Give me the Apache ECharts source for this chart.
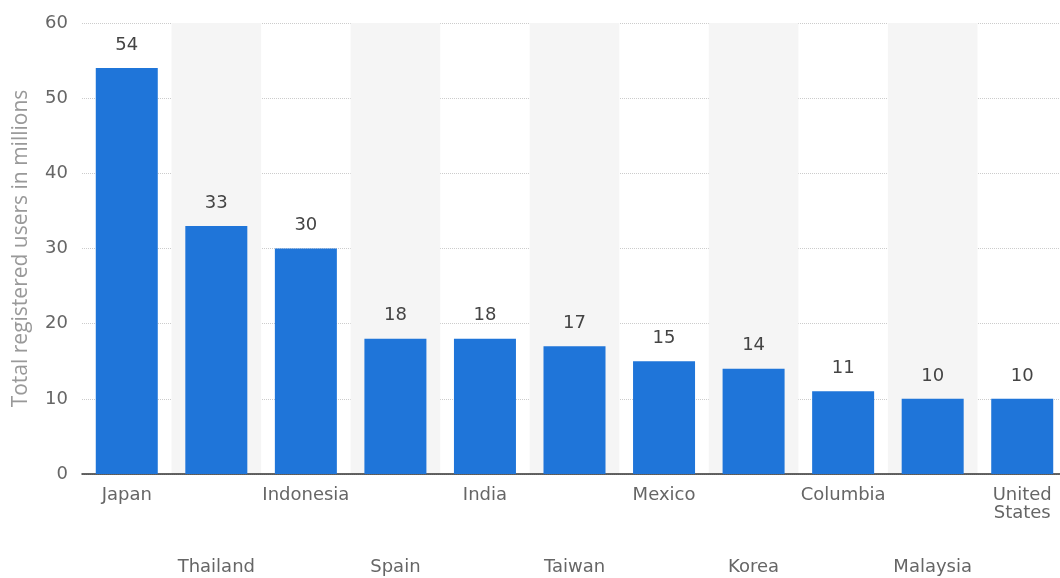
<!DOCTYPE html>
<html>
<head>
<meta charset="utf-8">
<script src="https://cdn.jsdelivr.net/npm/echarts@6/dist/echarts.min.js"></script>
<style>
  html, body { margin: 0; padding: 0; background: #fff; }
  #chart { width: 1060px; height: 578px; }
</style>
</head>
<body>
<div id="chart"></div>
<script>
var countries = ['Japan', 'Thailand', 'Indonesia', 'Spain', 'India', 'Taiwan', 'Mexico', 'Korea', 'Columbia', 'Malaysia', 'United\nStates'];
var users = [54, 33, 30, 18, 18, 17, 15, 14, 11, 10, 10];
var yTicks = { min: 0, max: 60, interval: 10 };

var font = 'DejaVu Sans';
var dom = echarts.init(document.getElementById('chart'));

var option = {
  animation: false,
  grid: { left: 82, width: 985, top: 23, bottom: 104, containLabel: false, outerBoundsMode: 'none' },
  xAxis: {
    type: 'category',
    data: countries,
    axisTick: { show: false },
    axisLine: { lineStyle: { color: '#333', width: 1.5 } },
    splitArea: { show: true, areaStyle: { color: ['rgba(0,0,0,0)', '#f5f5f5'] } },
    axisLabel: {
      interval: 0,
      color: '#666',
      fontFamily: font,
      fontSize: 18,
      lineHeight: 18,
      margin: 12,
      formatter: function (v, i) {
        return i % 2 === 1 ? '\n\n\n\n' + v : v;
      }
    }
  },
  yAxis: {
    type: 'value',
    min: yTicks.min,
    max: yTicks.max,
    interval: yTicks.interval,
    name: 'Total registered users in millions',
    nameLocation: 'middle',
    nameGap: 50,
    nameTextStyle: { color: '#999', fontSize: 21, fontFamily: 'Open Sans' },
    axisLine: { show: false },
    axisTick: { show: false },
    axisLabel: { color: '#666', fontSize: 18, fontFamily: font, margin: 14 },
    splitLine: { lineStyle: { color: '#ccc', type: 'dotted' } }
  },
  series: [{
    type: 'bar',
    data: users,
    barWidth: 62,
    itemStyle: { color: '#1f75d9' },
    label: {
      show: true,
      position: 'top',
      distance: 14,
      color: '#444',
      fontFamily: font,
      fontSize: 18
    }
  }]
};

dom.setOption(option);
</script>
</body>
</html>
